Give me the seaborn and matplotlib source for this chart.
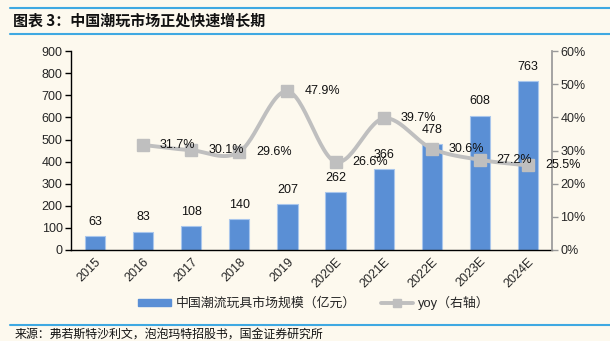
import numpy as np
import pandas as pd
import matplotlib
matplotlib.use("Agg")
import matplotlib.pyplot as plt
import seaborn as sns
from matplotlib.lines import Line2D
from matplotlib.patches import Patch

years = ["2015", "2016", "2017", "2018", "2019", "2020E", "2021E", "2022E", "2023E", "2024E"]
market = [63, 83, 108, 140, 207, 262, 366, 478, 608, 763]
yoy_years = ["2016", "2017", "2018", "2019", "2020E", "2021E", "2022E", "2023E", "2024E"]
yoy = [31.7, 30.1, 29.6, 47.9, 26.6, 39.7, 30.6, 27.2, 25.5]

title = "图表 3：中国潮玩市场正处快速增长期"
source = "来源：弗若斯特沙利文，泡泡玛特招股书，国金证券研究所"
bar_label = "中国潮流玩具市场规模（亿元）"
line_label = "yoy（右轴）"

BG = "#FDF9EE"
BAR = "#5A8FD5"
LINE = "#BFBFBF"
RULE = "#3FA9E2"
FS = 9

sns.set_theme(style="white")
plt.rcParams["font.family"] = ["Liberation Sans", "Noto Sans CJK SC", "DejaVu Sans"]
plt.rcParams["axes.unicode_minus"] = False

fig = plt.figure(figsize=(6.1, 3.41), dpi=100, facecolor=BG)
ax = fig.add_axes([0.1164, 0.267, 0.7886, 0.583], facecolor=BG)

df = pd.DataFrame({"year": years, "market": market})
sns.barplot(data=df, x="year", y="market", ax=ax, color=BAR, width=0.42,
            saturation=1, edgecolor="#A9C6EC", linewidth=0.8)
ax.set_ylim(0, 900)
ax.set_yticks(range(0, 901, 100))
ax.set_xlim(-0.5, len(years) - 0.5)
ax.set_xlabel("")
ax.set_ylabel("")
for i, v in enumerate(market):
    ax.annotate(f"{v}", (i, v), xytext=(0, 6), textcoords="offset points",
                ha="center", va="bottom", fontsize=FS, color="#111111")

ax.set_xticks(np.arange(len(years)))
ax.set_xticklabels(years, rotation=45, ha="right", rotation_mode="anchor", fontsize=FS)
ax.tick_params(axis="x", length=0, pad=4)
ax.set_xticks(np.arange(-0.5, len(years), 1.0), minor=True)
ax.tick_params(axis="x", which="minor", length=4, width=1, color="black", direction="out")
ax.tick_params(axis="y", length=4, width=1, color="black", direction="out", labelsize=FS, pad=2, left=True)

for s in ["top", "right"]:
    ax.spines[s].set_visible(False)
ax.spines["left"].set_color("black")
ax.spines["bottom"].set_color("black")
ax.spines["left"].set_linewidth(1)
ax.spines["bottom"].set_linewidth(1)

ax2 = ax.twinx()
ax2.set_ylim(0, 60)
ax2.set_yticks(range(0, 61, 10))
ax2.set_yticklabels([f"{t}%" for t in range(0, 61, 10)])
ax2.tick_params(axis="y", length=4, width=1, color="#999999", direction="out", labelsize=FS, pad=2, right=True)
for s in ["top", "left", "bottom"]:
    ax2.spines[s].set_visible(False)
ax2.spines["right"].set_color("#999999")

# smooth line (Catmull-Rom through data points)
xs = np.array([years.index(y) for y in yoy_years], dtype=float)
ys = np.array(yoy, dtype=float)
px = np.concatenate([[2 * xs[0] - xs[1]], xs, [2 * xs[-1] - xs[-2]]])
py = np.concatenate([[2 * ys[0] - ys[1]], ys, [2 * ys[-1] - ys[-2]]])
sx, sy = [], []
t = np.linspace(0, 1, 30)
for k in range(1, len(px) - 2):
    p0, p1, p2, p3 = (px[k-1], py[k-1]), (px[k], py[k]), (px[k+1], py[k+1]), (px[k+2], py[k+2])
    for d, out in ((0, sx), (1, sy)):
        a = 2 * p1[d]
        b = p2[d] - p0[d]
        c = 2 * p0[d] - 5 * p1[d] + 4 * p2[d] - p3[d]
        e = -p0[d] + 3 * p1[d] - 3 * p2[d] + p3[d]
        out.extend(0.5 * (a + b * t + c * t**2 + e * t**3))
sns.lineplot(x=sx, y=sy, ax=ax2, color=LINE, linewidth=2.8, sort=False, estimator=None)
ax2.plot(xs, ys, linestyle="none", marker="s", markersize=8, color=LINE)
for x, v in zip(xs, ys):
    ax2.text(x + 0.72, v, f"{v:.1f}%", ha="center", va="center", fontsize=FS, color="#111111")

handles = [Patch(facecolor=BAR, edgecolor=BAR),
           Line2D([0], [0], color=LINE, lw=2.8, marker="s", markersize=6)]
fig.legend(handles, [bar_label, line_label], loc="center", bbox_to_anchor=(0.515, 0.111),
           ncol=2, frameon=False, handlelength=2.5, handleheight=0.5,
           columnspacing=1.9, handletextpad=0.4,
           prop={"family": ["Liberation Sans", "Noto Sans CJK SC"], "size": 9.3})

# title and rules
fig.add_artist(Line2D([0.016, 1.0], [1 - 8 / 341, 1 - 8 / 341], color=RULE, lw=1.5))
fig.add_artist(Line2D([0.016, 1.0], [1 - 34 / 341, 1 - 34 / 341], color=RULE, lw=1.5))
fig.text(0.021, 1 - 20.5 / 341, title, fontsize=10.8, fontweight="bold", va="center", ha="left",
         family=["Noto Sans CJK SC", "DejaVu Sans"], color="#111111")
fig.add_artist(Line2D([0.016, 1.0], [1 - 325 / 341, 1 - 325 / 341], color=RULE, lw=1.5))
fig.text(0.024, 1 - 334.5 / 341, source, fontsize=8.6, va="center", ha="left",
         family=["Noto Sans CJK SC", "DejaVu Sans"], color="#111111")

fig.savefig("out.png", dpi=100, facecolor=BG)
